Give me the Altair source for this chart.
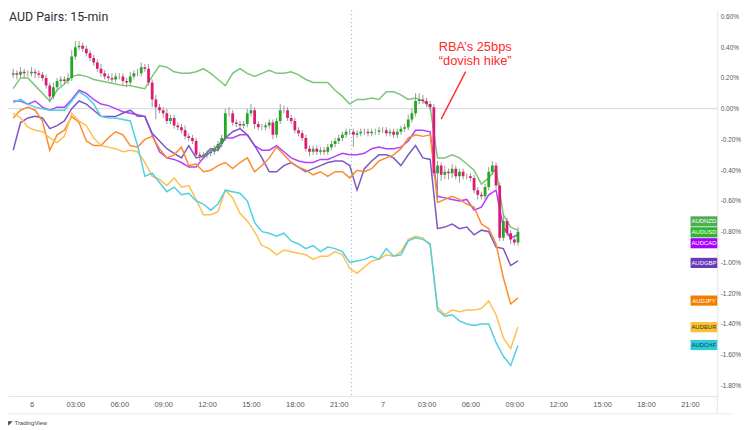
import altair as alt
import pandas as pd

# ---------------- data (percent change) ----------------
pairs = ["AUDNZD", "AUDCAD", "AUDGBP", "AUDJPY", "AUDEUR", "AUDCHF"]
line_colors = ["#7cc576", "#b040ff", "#7e57c2", "#fb8c2f", "#ffc04f", "#4fd0e2"]

# comparison lines: one value every 2 bars (30 min), bars -5, -3, ..., 133
audnzd = [0.13, 0.20, 0.20, 0.15, 0.10, 0.05, 0.12, 0.16, 0.21, 0.22,
          0.21, 0.19, 0.18, 0.17, 0.16, 0.15, 0.15, 0.14, 0.13, 0.21,
          0.28, 0.27, 0.24, 0.23, 0.23, 0.24, 0.26, 0.23, 0.19, 0.15,
          0.23, 0.26, 0.23, 0.21, 0.23, 0.25, 0.23, 0.23, 0.24, 0.22,
          0.19, 0.17, 0.17, 0.17, 0.12, 0.08, 0.03, 0.06, 0.06, 0.07,
          0.06, 0.11, 0.11, 0.09, 0.06, 0.07, 0.05, 0.01, -0.32, -0.32,
          -0.30, -0.32, -0.36, -0.40, -0.49, -0.45, -0.39, -0.69, -0.77, -0.79]
audcad = [0.05, 0.05, 0.03, 0.05, 0.01, -0.01, 0.01, 0.01, 0.06, 0.12,
          0.10, 0.06, 0.03, 0.02, 0.00, -0.02, -0.03, -0.04, -0.05, -0.17,
          -0.28, -0.32, -0.33, -0.35, -0.38, -0.38, -0.32, -0.28, -0.24, -0.19,
          -0.19, -0.17, -0.17, -0.24, -0.27, -0.27, -0.24, -0.28, -0.32, -0.34,
          -0.35, -0.35, -0.33, -0.33, -0.31, -0.29, -0.30, -0.30, -0.29, -0.26,
          -0.25, -0.26, -0.26, -0.25, -0.21, -0.14, -0.14, -0.15, -0.57, -0.58,
          -0.59, -0.60, -0.59, -0.66, -0.64, -0.56, -0.53, -0.77, -0.84, -0.82]
audgbp = [-0.27, -0.09, -0.06, -0.05, -0.06, -0.13, -0.11, -0.08, 0.00, 0.05,
          0.03, -0.01, -0.05, -0.05, -0.05, -0.03, -0.01, -0.05, -0.05, -0.16,
          -0.21, -0.26, -0.29, -0.32, -0.24, -0.32, -0.31, -0.26, -0.27, -0.19,
          -0.15, -0.13, -0.17, -0.24, -0.32, -0.41, -0.41, -0.37, -0.35, -0.38,
          -0.41, -0.39, -0.37, -0.35, -0.34, -0.34, -0.37, -0.53, -0.39, -0.34,
          -0.30, -0.30, -0.32, -0.37, -0.30, -0.24, -0.32, -0.33, -0.78, -0.77,
          -0.75, -0.78, -0.77, -0.82, -0.79, -0.80, -0.90, -0.91, -1.02, -0.99]
audjpy = [-0.06, -0.01, 0.01, -0.01, -0.08, -0.27, -0.17, -0.14, -0.05, -0.09,
          -0.21, -0.24, -0.24, -0.19, -0.15, -0.17, -0.24, -0.25, -0.20, -0.18,
          -0.26, -0.32, -0.30, -0.25, -0.37, -0.36, -0.41, -0.40, -0.37, -0.35,
          -0.39, -0.35, -0.32, -0.41, -0.37, -0.32, -0.25, -0.30, -0.35, -0.38,
          -0.40, -0.43, -0.41, -0.44, -0.41, -0.41, -0.45, -0.40, -0.41, -0.39,
          -0.34, -0.32, -0.30, -0.26, -0.19, -0.17, -0.18, -0.17, -0.61, -0.59,
          -0.57, -0.59, -0.62, -0.64, -0.75, -0.78, -0.88, -1.10, -1.27, -1.23]
audeur = [-0.03, -0.06, -0.12, -0.14, -0.15, -0.19, -0.22, -0.18, -0.03, -0.08,
          -0.11, -0.19, -0.24, -0.25, -0.26, -0.28, -0.27, -0.28, -0.35, -0.44,
          -0.46, -0.50, -0.45, -0.51, -0.50, -0.59, -0.69, -0.69, -0.67, -0.53,
          -0.58, -0.68, -0.73, -0.80, -0.89, -0.91, -0.95, -0.92, -0.93, -0.94,
          -0.95, -0.98, -0.96, -0.96, -0.93, -0.95, -1.04, -1.07, -1.03, -0.99,
          -0.98, -0.95, -0.96, -0.93, -0.85, -0.83, -0.84, -0.89, -1.29, -1.34,
          -1.31, -1.32, -1.31, -1.31, -1.30, -1.25, -1.34, -1.49, -1.56, -1.42]
audchf = [0.04, 0.06, 0.03, 0.01, 0.00, -0.01, -0.01, -0.01, 0.05, 0.11,
          0.08, 0.03, -0.05, -0.06, -0.06, -0.07, -0.08, -0.24, -0.44, -0.42,
          -0.48, -0.54, -0.51, -0.56, -0.55, -0.60, -0.62, -0.66, -0.62, -0.53,
          -0.54, -0.55, -0.60, -0.74, -0.80, -0.81, -0.83, -0.81, -0.86, -0.88,
          -0.91, -0.89, -0.93, -0.90, -0.91, -0.93, -1.00, -0.99, -0.98, -0.96,
          -0.98, -0.91, -0.96, -0.95, -0.86, -0.84, -0.85, -0.88, -1.31, -1.35,
          -1.34, -1.38, -1.40, -1.41, -1.40, -1.40, -1.52, -1.61, -1.67, -1.54]
line_first_bar, line_step = -5, 2

# AUDUSD 15-min candles, bars -5 .. 133 (open = previous close)
audusd_first_open = 0.22
audusd_close = [0.23, 0.22, 0.24, 0.23, 0.23, 0.24, 0.23, 0.22, 0.20, 0.15,
                0.08, 0.14, 0.18, 0.19, 0.18, 0.20, 0.34, 0.40, 0.41, 0.39,
                0.36, 0.33, 0.30, 0.26, 0.23, 0.21, 0.20, 0.19, 0.21, 0.21,
                0.18, 0.17, 0.21, 0.23, 0.23, 0.27, 0.26, 0.17, 0.06, 0.01,
                -0.01, -0.03, -0.08, -0.06, -0.11, -0.12, -0.14, -0.18, -0.19, -0.21,
                -0.30, -0.31, -0.30, -0.29, -0.28, -0.26, -0.23, -0.19, -0.03, -0.03,
                -0.09, -0.10, -0.11, -0.10, -0.03, -0.01, -0.10, -0.12, -0.12, -0.11,
                -0.09, -0.17, -0.08, -0.01, -0.01, -0.06, -0.08, -0.14, -0.16, -0.19,
                -0.26, -0.28, -0.26, -0.28, -0.27, -0.28, -0.25, -0.23, -0.21, -0.19,
                -0.17, -0.15, -0.15, -0.17, -0.16, -0.15, -0.15, -0.16, -0.15, -0.15,
                -0.14, -0.14, -0.16, -0.15, -0.17, -0.15, -0.13, -0.12, -0.07, -0.03,
                0.05, 0.06, 0.05, 0.03, 0.01, -0.42, -0.37, -0.43, -0.41, -0.42,
                -0.39, -0.44, -0.41, -0.44, -0.44, -0.45, -0.53, -0.56, -0.57, -0.51,
                -0.41, -0.37, -0.50, -0.84, -0.73, -0.81, -0.85, -0.87, -0.80]
audusd_wick_up = [0.03, 0.02, 0.03, 0.02, 0.02, 0.03, 0.02, 0.02, 0.02, 0.02,
                  0.02, 0.03, 0.02, 0.02, 0.02, 0.03, 0.04, 0.04, 0.03, 0.02,
                  0.02, 0.02, 0.02, 0.02, 0.03, 0.02, 0.02, 0.03, 0.02, 0.02,
                  0.02, 0.02, 0.03, 0.02, 0.03, 0.03, 0.02, 0.03, 0.02, 0.03,
                  0.02, 0.02, 0.03, 0.02, 0.02, 0.02, 0.02, 0.03, 0.02, 0.02,
                  0.02, 0.02, 0.02, 0.02, 0.02, 0.02, 0.02, 0.02, 0.03, 0.04,
                  0.02, 0.02, 0.02, 0.02, 0.03, 0.04, 0.02, 0.02, 0.02, 0.02,
                  0.02, 0.02, 0.02, 0.04, 0.03, 0.02, 0.02, 0.02, 0.02, 0.02,
                  0.02, 0.02, 0.02, 0.02, 0.02, 0.02, 0.02, 0.02, 0.02, 0.02,
                  0.02, 0.02, 0.02, 0.02, 0.02, 0.02, 0.02, 0.02, 0.02, 0.02,
                  0.02, 0.02, 0.02, 0.02, 0.02, 0.02, 0.02, 0.02, 0.03, 0.03,
                  0.05, 0.04, 0.03, 0.02, 0.02, 0.02, 0.03, 0.02, 0.04, 0.02,
                  0.03, 0.02, 0.02, 0.02, 0.02, 0.02, 0.02, 0.02, 0.02, 0.02,
                  0.03, 0.03, 0.02, 0.02, 0.04, 0.02, 0.02, 0.02, 0.03]
audusd_wick_dn = [0.02, 0.03, 0.02, 0.03, 0.02, 0.02, 0.03, 0.02, 0.02, 0.02,
                  0.04, 0.02, 0.02, 0.03, 0.02, 0.02, 0.02, 0.02, 0.02, 0.02,
                  0.02, 0.02, 0.02, 0.02, 0.02, 0.02, 0.02, 0.02, 0.02, 0.02,
                  0.03, 0.03, 0.02, 0.02, 0.02, 0.02, 0.02, 0.02, 0.05, 0.08,
                  0.02, 0.03, 0.02, 0.02, 0.02, 0.02, 0.02, 0.02, 0.02, 0.02,
                  0.02, 0.03, 0.02, 0.02, 0.02, 0.02, 0.02, 0.02, 0.02, 0.02,
                  0.02, 0.02, 0.02, 0.02, 0.02, 0.02, 0.03, 0.02, 0.02, 0.02,
                  0.02, 0.03, 0.02, 0.02, 0.02, 0.02, 0.02, 0.02, 0.02, 0.02,
                  0.02, 0.03, 0.02, 0.02, 0.02, 0.02, 0.02, 0.02, 0.02, 0.02,
                  0.02, 0.02, 0.02, 0.08, 0.02, 0.02, 0.02, 0.02, 0.02, 0.02,
                  0.02, 0.02, 0.02, 0.02, 0.02, 0.02, 0.02, 0.02, 0.02, 0.02,
                  0.02, 0.02, 0.02, 0.02, 0.02, 0.02, 0.17, 0.04, 0.03, 0.04,
                  0.03, 0.02, 0.04, 0.02, 0.02, 0.02, 0.02, 0.03, 0.02, 0.02,
                  0.02, 0.02, 0.02, 0.02, 0.02, 0.02, 0.03, 0.02, 0.02]
candle_first_bar = -5
up_color, down_color, wick_color = "#22a822", "#e01a72", "#8c8c8c"

# last-value tags on the right edge (stacked positions, in %)
tag_names = ["AUDNZD", "AUDUSD", "AUDCAD", "AUDGBP", "AUDJPY", "AUDEUR", "AUDCHF"]
tag_pos = [-0.733, -0.804, -0.875, -1.003, -1.248, -1.421, -1.537]
tag_fill = ["#4caf50", "#2db52d", "#aa00ff", "#673ab7", "#f57c00", "#fbc22d", "#2ccbdc"]
tag_text = ["#ffffff", "#ffffff", "#ffffff", "#ffffff", "#ffffff", "#333333", "#1f3b40"]

y_ticks = [0.6, 0.4, 0.2, 0.0, -0.2, -0.4, -0.6, -0.8, -1.0, -1.2, -1.4, -1.6, -1.8]
tick_hours = list(range(0, 46, 3))          # 6 00:00 .. 7 21:00

annot_lines = ["RBA\u2019s 25bps", "\u201cdovish hike\u201d"]

# ---------------- layout ----------------
W, H = 717, 390
BASE_MS = int(pd.Timestamp("2023-03-06T00:00:00", tz="UTC").value // 10**6)
BAR_MS = 15 * 60 * 1000


def ms(bar):
    return int(BASE_MS + bar * BAR_MS)


x_domain = [ms(-5.07), ms(186.13)]
y_domain = [-1.869, 0.640]
LABEL_FONT = "Liberation Sans"

x_axis = alt.Axis(values=[BASE_MS + h * 3600 * 1000 for h in tick_hours],
                  labelExpr="utchours(datum.value) == 0 ? utcFormat(datum.value, '%-d') : utcFormat(datum.value, '%H:%M')",
                  ticks=False, grid=False, domainColor="#e3e3e3", labelColor="#555555",
                  labelFontSize=7.5, labelFont=LABEL_FONT, labelPadding=5, title=None,
                  labelFlush=False, labelOverlap=False)
y_axis = alt.Axis(orient="right", values=y_ticks,
                  labelExpr="replace(format(datum.value, '.2f'), '\u2212', '-') + '%'",
                  ticks=False, grid=False, domainColor="#e3e3e3", labelColor="#555555",
                  labelFontSize=6.5, labelFont=LABEL_FONT, labelPadding=3, title=None,
                  labelOverlap=False)
xs = alt.Scale(type="utc", domain=x_domain, nice=False)
ys = alt.Scale(domain=y_domain, nice=False, zero=False)


def X(field):
    return alt.X(f"{field}:T", scale=xs, axis=x_axis)


def Y(field):
    return alt.Y(f"{field}:Q", scale=ys, axis=y_axis)


# ---------------- frames ----------------
rows = []
for name, vals in zip(pairs, [audnzd, audcad, audgbp, audjpy, audeur, audchf]):
    for k, v in enumerate(vals):
        rows.append({"pair": name, "t": ms(line_first_bar + line_step * k), "v": v})
lines_df = pd.DataFrame(rows)

crows = []
prev = audusd_first_open
for k, c in enumerate(audusd_close):
    o = prev
    crows.append({"t": ms(candle_first_bar + k), "o": o, "c": c,
                  "hi": max(o, c) + audusd_wick_up[k], "lo": min(o, c) - audusd_wick_dn[k],
                  "col": up_color if c >= o else down_color})
    prev = c
candles_df = pd.DataFrame(crows)

tags_df = pd.DataFrame({"name": tag_names, "pos": tag_pos, "fill": tag_fill, "tc": tag_text})
tags_df["top"] = tags_df["pos"] + 0.033
tags_df["bot"] = tags_df["pos"] - 0.033

# ---------------- layers ----------------
zero = alt.Chart(pd.DataFrame({"v": [0.0]})).mark_rule(color="#d4d4d4", strokeWidth=1).encode(y=Y("v"))

cross = alt.Chart(pd.DataFrame({"t": [ms(87.5)]})).mark_rule(
    color="#7fb0f0", strokeWidth=1.2, strokeDash=[1, 3]).encode(x=X("t"))

lines = alt.Chart(lines_df).mark_line(strokeWidth=1.5, clip=True).encode(
    x=X("t"), y=Y("v"),
    color=alt.Color("pair:N", scale=alt.Scale(domain=pairs, range=line_colors), legend=None))

wicks = alt.Chart(candles_df).mark_rule(color=wick_color, strokeWidth=0.9, clip=True).encode(
    x=X("t"), y=Y("lo"), y2="hi")
bodies = alt.Chart(candles_df).mark_bar(size=2.8, clip=True).encode(
    x=X("t"), y=Y("o"), y2="c", color=alt.Color("col:N", scale=None))

arrow = alt.Chart(pd.DataFrame({"t": [ms(118.7)], "t2": [ms(112.0)], "v": [0.241], "v2": [-0.068]})).mark_rule(
    color="#ff2a2a", strokeWidth=1.4).encode(x=X("t"), x2="t2", y=Y("v"), y2="v2")

annot = alt.Chart(pd.DataFrame({"t": [ms(121.3)] * 2, "v": [0.402, 0.312], "txt": annot_lines})).mark_text(
    color="#ff2a2a", fontSize=13, font="Liberation Sans", align="center", baseline="middle").encode(
    x=X("t"), y=Y("v"), text="txt:N")

tag_box = alt.Chart(tags_df).mark_rect().encode(
    x=alt.value(690), x2=alt.value(717), y=Y("top"), y2="bot", color=alt.Color("fill:N", scale=None))
tag_txt = alt.Chart(tags_df).mark_text(fontSize=6, font="Liberation Sans", align="center",
                                       baseline="middle").encode(
    x=alt.value(703.5), y=Y("pos"), text="name:N", color=alt.Color("tc:N", scale=None))

one = pd.DataFrame({"a": [0]})
title = alt.Chart(one).mark_text(align="left", baseline="middle", fontSize=12.5, font="Roboto",
                                 color="#2a2e39").encode(
    x=alt.value(1), y=alt.value(7), text=alt.value("AUD Pairs: 15-min"))
footer_line = alt.Chart(one).mark_rule(color="#ececec").encode(
    x=alt.value(0), x2=alt.value(734), y=alt.value(408))
right_ext = alt.Chart(one).mark_rule(color="#e3e3e3").encode(
    x=alt.value(717), y=alt.value(390), y2=alt.value(408))
footer = alt.Chart(one).mark_text(align="left", baseline="middle", fontSize=6, font="Liberation Sans",
                                  color="#444444").encode(
    x=alt.value(0), y=alt.value(417), text=alt.value("\u25e4 TradingView"))

chart = alt.layer(zero, cross, lines, wicks, bodies, arrow, annot, tag_box, tag_txt,
                  title, footer_line, right_ext, footer).properties(
    width=W, height=H,
    autosize=alt.AutoSizeParams(type="none"),
    padding={"left": 0, "top": 0, "right": 25, "bottom": 32},
    background="white",
).configure_view(stroke=None)

chart.save("out.html", embed_options={"renderer": "svg", "actions": False})
